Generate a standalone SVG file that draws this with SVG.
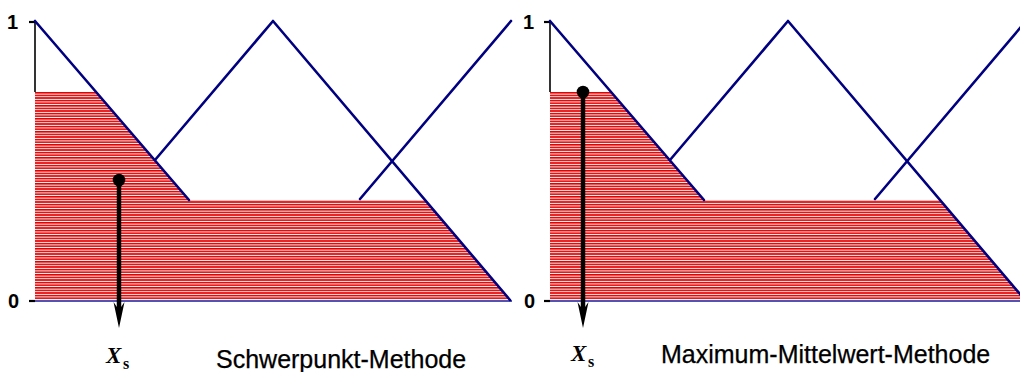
<svg xmlns="http://www.w3.org/2000/svg" width="1020" height="372" viewBox="0 0 1020 372">
<defs>
<pattern id="hatch" patternUnits="userSpaceOnUse" x="0" y="92" width="20" height="2.6">
<rect x="0" y="0" width="20" height="2.6" fill="#ffffff"/>
<rect x="0" y="0" width="20" height="1.6" fill="#e00000"/>
</pattern>
<style>
.mf{fill:none;stroke:#000080;stroke-width:2.6;stroke-linecap:round;stroke-linejoin:round}
.base{stroke:#1a1a9a;stroke-width:1.5}
.ax{stroke:#000;stroke-width:1.6;fill:none}
.tick{stroke:#000;stroke-width:2.2}
.num{font-family:"Liberation Sans",Arial,sans-serif;font-weight:bold;font-size:20px;fill:#000}
.title{font-family:"Liberation Sans",Arial,sans-serif;font-size:25px;fill:#000;stroke:#000;stroke-width:0.25}
.xs{font-family:"Liberation Serif","Times New Roman",serif;font-weight:bold;font-style:italic;font-size:23px;fill:#000}
.sub{font-family:"Liberation Serif","Times New Roman",serif;font-weight:bold;font-size:16px;fill:#000}
.shaft{stroke:#000;stroke-width:4.5}
</style>
<g id="panel">
<polygon points="35,92 96,92 189,200 425,200 510,300 35,300" fill="url(#hatch)"/>
<line class="ax" x1="35" y1="22" x2="35" y2="92"/>
<line class="tick" x1="29" y1="22" x2="35" y2="22"/>
<line class="tick" x1="29" y1="301" x2="35" y2="301"/>
<line class="base" x1="35" y1="301" x2="512" y2="301"/>
<polyline class="mf" points="35,21 189,200"/>
<polyline class="mf" points="155,160 273,21 510,300"/>
<polyline class="mf" points="360,199 511,21"/>
</g>
</defs>
<rect width="1020" height="372" fill="#ffffff"/>
<g id="left-panel">
<use href="#panel"/>
<text class="num" x="7" y="29">1</text>
<text class="num" x="8" y="308">0</text>
</g>
<g id="right-panel">
<use href="#panel" transform="translate(515,0)"/>
<text class="num" x="523" y="29">1</text>
<text class="num" x="524" y="308">0</text>
</g>
<g id="connectors">
<g id="arrow-left">
<circle cx="119" cy="180" r="6.3" fill="#000"/>
<line class="shaft" x1="119" y1="180" x2="119" y2="312"/>
<path d="M113.5,302 L119,328 L124.5,302 L119,310 Z" fill="#000"/>
</g>
<g id="arrow-right">
<circle cx="583" cy="92" r="6.3" fill="#000"/>
<line class="shaft" x1="583" y1="92" x2="583" y2="312"/>
<path d="M577.5,302 L583,328 L588.5,302 L583,310 Z" fill="#000"/>
</g>
</g>
<g id="label-left">
<text class="xs" x="106" y="363">X</text>
<text class="sub" x="123" y="369">s</text>
<text class="title" x="216" y="368">Schwerpunkt-Methode</text>
</g>
<g id="label-right">
<text class="xs" x="571" y="361">X</text>
<text class="sub" x="588" y="367">s</text>
<text class="title" x="661" y="363">Maximum-Mittelwert-Methode</text>
</g>
</svg>
